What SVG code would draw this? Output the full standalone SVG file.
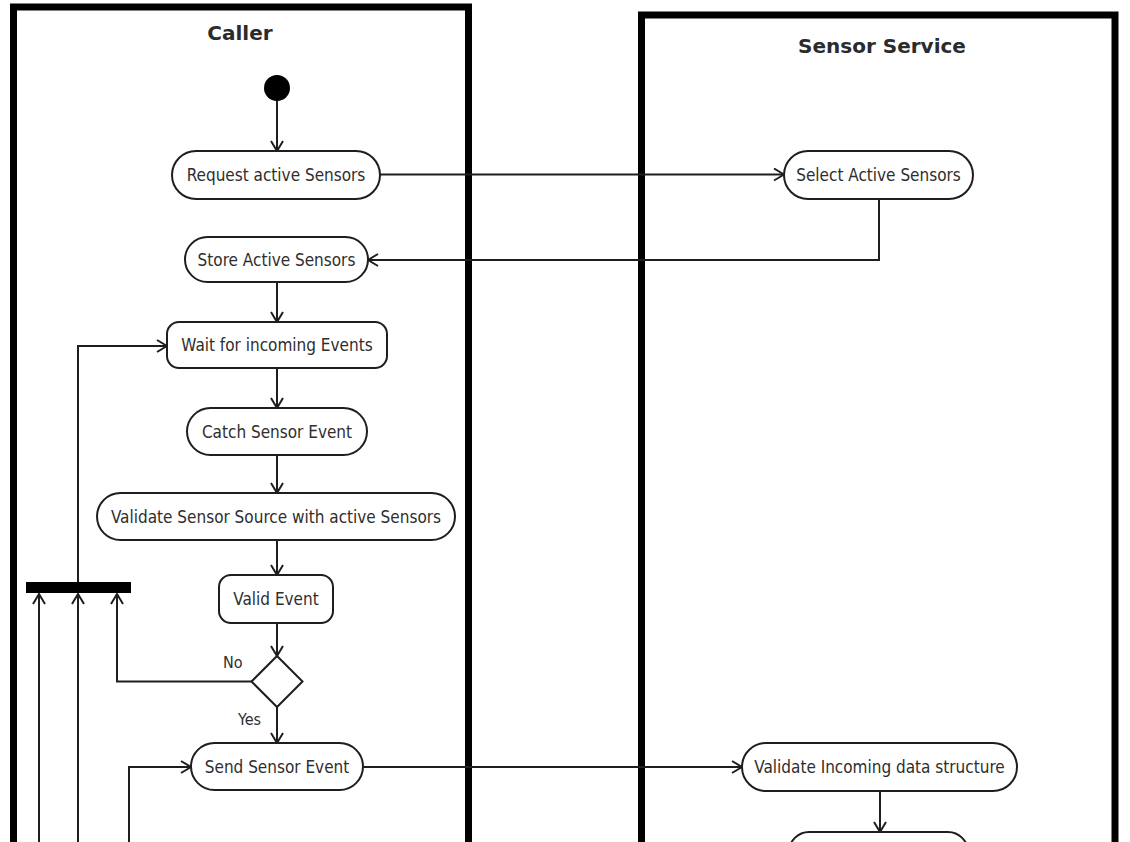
<svg xmlns="http://www.w3.org/2000/svg" width="1130" height="842" viewBox="0 0 1130 842">
  <style>
    .lane { fill: none; stroke: #000; stroke-width: 7; }
    .lane-title { font-family: "DejaVu Sans", "Liberation Sans", sans-serif; font-size: 20px; font-weight: bold; fill: #2b2b2b; text-anchor: middle; }
    .action { fill: #fff; stroke: #1e1e1e; stroke-width: 2; }
    .label { font-family: "DejaVu Sans Condensed", "DejaVu Sans", sans-serif; font-stretch: condensed; font-size: 17px; fill: #2e2e2e; text-anchor: middle; }
    .guard { font-family: "DejaVu Sans Condensed", "DejaVu Sans", sans-serif; font-stretch: condensed; font-size: 16px; fill: #2e2e2e; }
    .flow { fill: none; stroke: #1e1e1e; stroke-width: 2; marker-end: url(#open); }
  </style>
  <defs>
    <marker id="open" viewBox="0 0 12 14" refX="11" refY="7" markerWidth="12" markerHeight="14" markerUnits="userSpaceOnUse" orient="auto">
      <path d="M1,1 L11,7 L1,13" fill="none" stroke="#1e1e1e" stroke-width="2"/>
    </marker>
  </defs>
  <rect width="1130" height="842" fill="#fff"/>

  <!-- swimlanes -->
  <g id="lane-caller">
    <path class="lane" d="M13.5,860 V7 H468.5 V860"/>
    <text class="lane-title" x="240" y="40">Caller</text>
  </g>
  <g id="lane-sensor-service">
    <path class="lane" d="M641.5,860 V15 H1115 V860"/>
    <text class="lane-title" x="882" y="53">Sensor Service</text>
  </g>

  <!-- connectors -->
  <g id="connectors">
    <path class="flow" d="M277,101 V151"/>
    <path class="flow" d="M380,174.5 H784"/>
    <path class="flow" d="M879,199 V260 H368"/>
    <path class="flow" d="M277,282 V322"/>
    <path class="flow" d="M277,368 V408"/>
    <path class="flow" d="M277,455 V493"/>
    <path class="flow" d="M277,540 V575"/>
    <path class="flow" d="M277,623 V656"/>
    <path class="flow" d="M277,707 V743"/>
    <path class="flow" d="M252,681.5 H117 V594"/>
    <path class="flow" d="M39,860 V594"/>
    <path class="flow" d="M78,860 V594"/>
    <path class="flow" d="M78,582 V346 H167"/>
    <path class="flow" d="M129,860 V767 H191"/>
    <path class="flow" d="M363,767 H742"/>
    <path class="flow" d="M880,791 V832"/>
  </g>

  <!-- caller nodes -->
  <g id="start">
    <circle cx="277" cy="88" r="13" fill="#000"/>
  </g>
  <g id="request-active-sensors">
    <rect class="action" x="172" y="151" width="208" height="48" rx="24"/>
    <text class="label" x="276" y="181">Request active Sensors</text>
  </g>
  <g id="store-active-sensors">
    <rect class="action" x="185" y="237" width="183" height="45" rx="22.5"/>
    <text class="label" x="276.5" y="265.5">Store Active Sensors</text>
  </g>
  <g id="wait-for-incoming-events">
    <rect class="action" x="167" y="322" width="220" height="46" rx="12"/>
    <text class="label" x="277" y="351">Wait for incoming Events</text>
  </g>
  <g id="catch-sensor-event">
    <rect class="action" x="187" y="408" width="180" height="47" rx="23.5"/>
    <text class="label" x="277" y="438">Catch Sensor Event</text>
  </g>
  <g id="validate-sensor-source">
    <rect class="action" x="97" y="493" width="358" height="47" rx="23.5"/>
    <text class="label" x="276" y="523">Validate Sensor Source with active Sensors</text>
  </g>
  <g id="valid-event">
    <rect class="action" x="219" y="575" width="114" height="48" rx="12"/>
    <text class="label" x="276" y="605">Valid Event</text>
  </g>
  <g id="decision">
    <path class="action" d="M277,656 L302.5,681.5 L277,707 L251.5,681.5 Z"/>
    <text class="guard" x="223" y="668">No</text>
    <text class="guard" x="238" y="725">Yes</text>
  </g>
  <g id="join-bar">
    <rect x="26" y="582" width="105" height="11" fill="#000"/>
  </g>
  <g id="send-sensor-event">
    <rect class="action" x="191" y="743" width="172" height="47" rx="23.5"/>
    <text class="label" x="277" y="773">Send Sensor Event</text>
  </g>

  <!-- sensor service nodes -->
  <g id="select-active-sensors">
    <rect class="action" x="784" y="151" width="189" height="48" rx="24"/>
    <text class="label" x="878.5" y="181">Select Active Sensors</text>
  </g>
  <g id="validate-incoming-data">
    <rect class="action" x="742" y="743" width="275" height="48" rx="24"/>
    <text class="label" x="879.5" y="773">Validate Incoming data structure</text>
  </g>
  <g id="next-action">
    <rect class="action" x="789" y="832" width="179" height="48" rx="20"/>
  </g>
</svg>
